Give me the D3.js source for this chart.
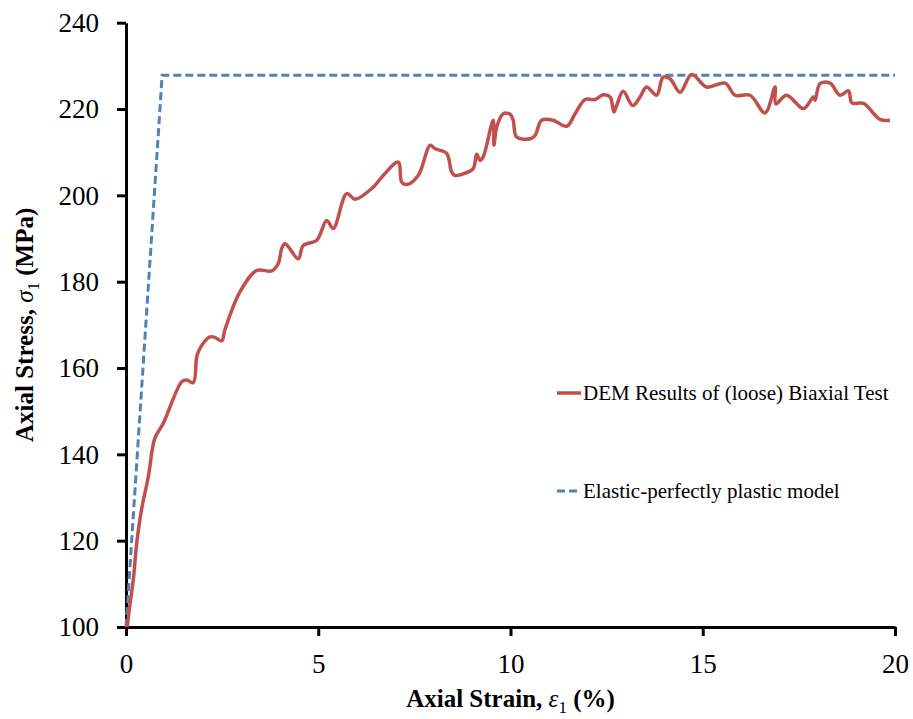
<!DOCTYPE html>
<html>
<head>
<meta charset="utf-8">
<script src="https://cdn.jsdelivr.net/npm/d3@7"></script>
<style>
  body { margin: 0; background: #fff; }
  svg { display: block; font-family: "Liberation Serif", serif; }
</style>
</head>
<body>
<svg id="chart" width="913" height="719"></svg>
<script>
// DEM results (loose biaxial test)
const demStrain = [0.03, 0.10, 0.19, 0.28, 0.40, 0.58, 0.75, 0.97, 1.45, 1.58, 1.75, 1.84, 1.92, 2.18, 2.31, 2.49, 2.57, 2.96,
  3.40, 3.79, 3.96, 4.05, 4.14, 4.48, 4.61, 4.96, 5.22, 5.39, 5.74, 5.96, 6.43, 6.65, 7.08, 7.17, 7.30, 7.60, 7.91, 8.04,
  8.34, 8.47, 8.56, 8.77, 9.03, 9.12, 9.21, 9.29, 9.55, 9.57, 9.64, 9.81, 9.99, 10.07, 10.16, 10.51, 10.64, 10.81, 11.11,
  11.46, 11.68, 11.94, 12.20, 12.41, 12.59, 12.69, 12.76, 12.93, 13.18, 13.37, 13.54, 13.80, 13.97, 14.15, 14.41, 14.71,
  15.10, 15.58, 15.84, 16.23, 16.62, 16.88, 16.90, 17.18, 17.62, 17.88, 17.92, 18.05, 18.31, 18.57, 18.79, 18.88, 19.18,
  19.61, 19.87];
const demStress = [100, 105, 111, 119.5, 127, 134.8, 143.7, 147.2, 156.8, 157.2, 156.6, 162.6, 164.5, 167.2, 167.1, 166.3, 168.8, 177.6,
  182.6, 182.5, 184.2, 187.7, 188.8, 185.3, 188.4, 189.6, 194.2, 192.3, 200.4, 199.1, 201.9, 204.2, 207.7, 203.1, 202.5, 204.6, 211.6, 210.8,
  209.7, 205.4, 204.6, 205.0, 206.2, 209.5, 208.1, 208.9, 217.4, 211.6, 215.8, 218.9, 218.8, 217.4, 213.5, 213.1, 213.9, 217.4, 217.4,
  216.0, 218.9, 222.2, 222.2, 223.3, 222.8, 219.3, 220.8, 224.1, 220.8, 222.8, 225.1, 223.2, 227.4, 227.0, 223.9, 228.0,
  225.1, 226.0, 223.2, 223.2, 219.1, 225.1, 221.2, 223.2, 220.1, 222.8, 222.0, 225.9, 226.0, 223.2, 224.2, 221.4, 221.3,
  217.6, 217.4];

// elastic-perfectly plastic model
const modelStrain = [0, 0.94, 20];
const modelStress = [100, 227.8, 227.8];

const xTicks = [0, 5, 10, 15, 20];
const yTicks = [100, 120, 140, 160, 180, 200, 220, 240];

const svg = d3.select("#chart");
const margin = { top: 22.7, right: 18, bottom: 92, left: 126 };
const width = 913 - margin.left - margin.right;
const height = 719 - margin.top - margin.bottom;

const g = svg.append("g").attr("transform", "translate(" + margin.left + "," + margin.top + ")");

const x = d3.scaleLinear().domain([0, 20]).range([0, width]);
const y = d3.scaleLinear().domain([100, 240]).range([height, 0]);

const red = "#c0504d";
const blue = "#4f81bd";

const demData = demStrain.map((d, i) => [d, demStress[i]]);
const modelData = modelStrain.map((d, i) => [d, modelStress[i]]);

const line = d3
  .line()
  .x((d) => x(d[0]))
  .y((d) => y(d[1]));

// axes
const yAxis = g.append("g")
  .call(d3.axisLeft(y).tickValues(yTicks).tickSize(9).tickSizeOuter(0).tickPadding(18));
const xAxis = g.append("g")
  .attr("transform", "translate(0," + height + ")")
  .call(d3.axisBottom(x).tickValues(xTicks).tickSize(9).tickSizeOuter(0).tickPadding(18));

[xAxis, yAxis].forEach((a) => {
  a.select(".domain").attr("stroke", "#000").attr("stroke-width", 3);
  a.selectAll(".tick line").attr("stroke", "#000").attr("stroke-width", 3);
  a.selectAll(".tick text")
    .attr("fill", "#000")
    .style("font-family", "Liberation Serif, serif")
    .style("font-size", "27px");
});
yAxis.selectAll(".tick text").attr("dy", "0.33em");

// series
g.append("path")
  .datum(modelData)
  .attr("fill", "none")
  .attr("stroke", blue)
  .attr("stroke-width", 3)
  .attr("stroke-dasharray", "8,4")
  .attr("d", line);

g.append("path")
  .datum(demData)
  .attr("fill", "none")
  .attr("stroke", red)
  .attr("stroke-width", 3.5)
  .attr("stroke-linejoin", "round")
  .attr("d", line.curve(d3.curveCatmullRom.alpha(0.5)));

// axis titles
const xTitle = svg.append("text")
  .attr("x", margin.left + width / 2)
  .attr("y", 707)
  .attr("text-anchor", "middle")
  .style("font-size", "25px")
  .style("font-weight", "bold");
xTitle.append("tspan").text("Axial Strain, ");
xTitle.append("tspan").style("font-style", "italic").style("font-weight", "normal").text("ε");
xTitle.append("tspan").attr("dy", 6).style("font-size", "17px").style("font-weight", "normal").text("1");
xTitle.append("tspan").attr("dy", -6).text(" (%)");

const yTitle = svg.append("text")
  .attr("transform", "translate(33," + (margin.top + height / 2) + ") rotate(-90)")
  .attr("text-anchor", "middle")
  .style("font-size", "25px")
  .style("font-weight", "bold");
yTitle.append("tspan").text("Axial Stress, ");
yTitle.append("tspan").style("font-style", "italic").style("font-weight", "normal").text("σ");
yTitle.append("tspan").attr("dy", 6).style("font-size", "17px").style("font-weight", "normal").text("1");
yTitle.append("tspan").attr("dy", -6).text(" (MPa)");

// legend
const legendItems = [
  { label: "DEM Results of (loose) Biaxial Test", color: red, dash: null, width: 3.5 },
  { label: "Elastic-perfectly plastic model", color: blue, dash: "8,4", width: 3 }
];
const legend = svg.append("g").attr("transform", "translate(557,393)");
const entries = legend.selectAll("g")
  .data(legendItems)
  .enter()
  .append("g")
  .attr("transform", (d, i) => "translate(0," + i * 98 + ")");
entries.append("line")
  .attr("x1", 0).attr("x2", 24)
  .attr("stroke", (d) => d.color)
  .attr("stroke-width", (d) => d.width)
  .attr("stroke-dasharray", (d) => d.dash);
entries.append("text")
  .attr("x", 26)
  .attr("y", 7)
  .style("font-size", "21px")
  .text((d) => d.label);
</script>
</body>
</html>
